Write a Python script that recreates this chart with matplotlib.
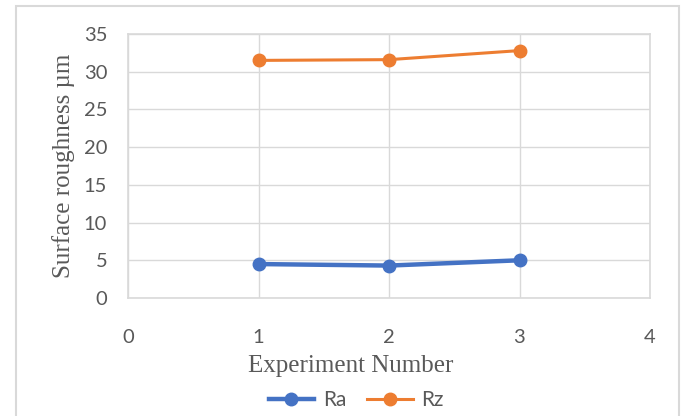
import matplotlib.pyplot as plt
from matplotlib.patches import Rectangle

experiments = [1, 2, 3]
ra = [4.5, 4.3, 5.0]
rz = [31.5, 31.6, 32.8]

x_ticks = [0, 1, 2, 3, 4]
y_ticks = [0, 5, 10, 15, 20, 25, 30, 35]

blue = "#4472C4"
orange = "#ED7D31"
grid_col = "#D9D9D9"
tick_col = "#595959"

fig = plt.figure(figsize=(6.85, 4.16), dpi=100)
ax = fig.add_axes([128 / 685, 1 - 298 / 416, 522 / 685, 264 / 416])

# chart area border (Excel style)
fig.patches.append(Rectangle((16 / 685, -0.1), 663 / 685, 1.1 - 6 / 416,
                             transform=fig.transFigure, fill=False,
                             edgecolor="#D9D9D9", linewidth=1.5))

ax.plot(experiments, ra, color=blue, linewidth=3.2, marker="o",
        markersize=9, label="Ra", zorder=3)
ax.plot(experiments, rz, color=orange, linewidth=2.2, marker="o",
        markersize=9, label="Rz", zorder=3)

ax.set_xlim(0, 4)
ax.set_ylim(0, 35)
ax.set_xticks(x_ticks)
ax.set_yticks(y_ticks)
ax.grid(True, color=grid_col, linewidth=1)
ax.set_axisbelow(True)
for s in ax.spines.values():
    s.set_color(grid_col)
    s.set_linewidth(1.2)

ax.tick_params(length=0, labelsize=14.5, labelcolor=tick_col)
ax.tick_params(axis="x", pad=22)
ax.tick_params(axis="y", pad=15)
for lbl in ax.get_xticklabels() + ax.get_yticklabels():
    lbl.set_family("Lato")

ax.set_xlabel("Experiment Number", family="Liberation Serif", fontsize=18,
              color=tick_col, labelpad=2)
ax.xaxis.set_label_coords(0.427, -0.215)
ax.set_ylabel("Surface roughness µm", family="Liberation Serif", fontsize=18,
              color=tick_col, labelpad=6)

leg = fig.legend(loc="center", bbox_to_anchor=(356 / 685, 1 - 400 / 416), ncol=2,
                 frameon=False, prop={"family": "Lato", "size": 15},
                 handlelength=2.2, columnspacing=1.0, handletextpad=0.4)
for t in leg.get_texts():
    t.set_color(tick_col)

fig.savefig("out.png", dpi=100)
